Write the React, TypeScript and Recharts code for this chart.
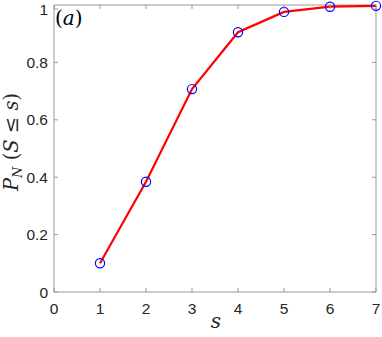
import { LineChart, Line, XAxis, YAxis, ReferenceLine, Label } from "recharts";

// s values and cumulative probability P_N(S <= s)
const sValues = [1, 2, 3, 4, 5, 6, 7];
const probValues = [0.1, 0.384, 0.707, 0.905, 0.976, 0.994, 0.997];
const xTicks = [0, 1, 2, 3, 4, 5, 6, 7];
const yTicks = [0, 0.2, 0.4, 0.6, 0.8, 1];

const data = sValues.map((s, i) => ({ s, p: probValues[i] }));

const W = 382;
const H = 337;
const M = { top: 5, right: 6, bottom: 0, left: 0 };
const YW = 54;
const XH = 45;
const plotH = H - M.top - M.bottom - XH;
const plotL = M.left + YW;
const plotR = W - M.right;
const plotT = M.top;
const plotB = M.top + plotH;

const axisGrey = "#999999";
const textColor = "#262626";
const tickFont = "'Liberation Sans', Arial, sans-serif";
const mathFont = "'DejaVu Serif', 'Liberation Serif', serif";

function XTick(props: any) {
  const { x, payload } = props;
  return (
    <g>
      <line x1={x} x2={x} y1={plotB} y2={plotB - 4} stroke={axisGrey} />
      <line x1={x} x2={x} y1={plotT} y2={plotT + 4} stroke={axisGrey} />
      <text x={x} y={plotB + 22} textAnchor="middle" fontSize={15.5} fill={textColor} fontFamily={tickFont}>
        {payload.value}
      </text>
    </g>
  );
}

function YTick(props: any) {
  const { y, payload } = props;
  return (
    <g>
      <line x1={plotL} x2={plotL + 4} y1={y} y2={y} stroke={axisGrey} />
      <line x1={plotR} x2={plotR - 4} y1={y} y2={y} stroke={axisGrey} />
      <text x={plotL - 6} y={y + 5.5} textAnchor="end" fontSize={15.5} fill={textColor} fontFamily={tickFont}>
        {payload.value}
      </text>
    </g>
  );
}

function Marker(props: any) {
  const { cx, cy } = props;
  return <circle cx={cx} cy={cy} r={4.6} fill="none" stroke="#0000ff" strokeWidth={1.2} />;
}

export default function App() {
  return (
    <div style={{ position: "absolute", left: 0, top: 0, background: "#fff" }}>
      <LineChart width={W} height={H} data={data} margin={M}>
        <XAxis
          dataKey="s"
          type="number"
          domain={[0, 7]}
          ticks={xTicks}
          height={XH}
          tick={<XTick />}
          tickLine={false}
          stroke={axisGrey}
        >
          <Label
            content={() => (
              <text x={(plotL + plotR) / 2 + 1} y={plotB + 36} textAnchor="middle" fontSize={20} fontStyle="italic" fill={textColor} fontFamily={mathFont}>
                s
              </text>
            )}
          />
        </XAxis>
        <YAxis
          type="number"
          domain={[0, 1]}
          ticks={yTicks}
          width={YW}
          tick={<YTick />}
          tickLine={false}
          stroke={axisGrey}
        >
          <Label
            content={() => (
              <text
                transform="translate(18, 142) rotate(-90)"
                textAnchor="middle"
                fontSize={19.5}
                fill={textColor}
                fontFamily={mathFont}
              >
                <tspan fontStyle="italic">P</tspan>
                <tspan fontStyle="italic" fontSize={13} dy={4}>N</tspan>
                <tspan dy={-4}> (</tspan>
                <tspan fontStyle="italic">S</tspan>
                <tspan> ≤ </tspan>
                <tspan fontStyle="italic">s</tspan>
                <tspan>)</tspan>
              </text>
            )}
          />
        </YAxis>
        <ReferenceLine y={1} stroke={axisGrey} />
        <ReferenceLine x={7} stroke={axisGrey} />
        <Line
          dataKey="p"
          type="linear"
          stroke="#ff0000"
          strokeWidth={2.2}
          dot={<Marker />}
          activeDot={false}
          isAnimationActive={false}
        />
        <text x={plotL + 1} y={plotT + 20} fontSize={20} fill="#000" fontFamily={mathFont}>
          (<tspan fontStyle="italic">a</tspan>)
        </text>
      </LineChart>
    </div>
  );
}
